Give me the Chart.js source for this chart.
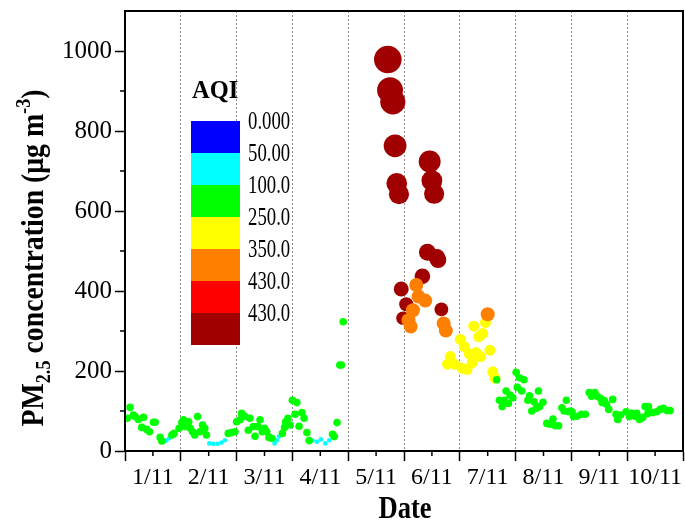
<!DOCTYPE html>
<html>
<head>
<meta charset="utf-8">
<script src="https://cdn.jsdelivr.net/npm/chart.js@4.4.1/dist/chart.umd.min.js"></script>
<style>
  html, body { margin: 0; padding: 0; background: #fff; }
  canvas { display: block; }
</style>
</head>
<body>
<canvas id="pmChart" width="685" height="522"></canvas>
<script>
// x = days since 1/11 00:00, y = PM2.5 (ug m-3); one array per AQI class
var dayLabels = ['1/11', '2/11', '3/11', '4/11', '5/11', '6/11', '7/11', '8/11', '9/11', '10/11'];
var aqiLevels = ['0.000', '50.00', '100.0', '250.0', '350.0', '430.0', '430.0'];
var aqiColors = ['#0000ff', '#00ffff', '#00ff00', '#ffff00', '#ff8000', '#ff0000', '#a00000'];

var cyanPoints = [
  [0.69, 26], [0.74, 26], [0.79, 32],
  [1.51, 19], [1.58, 18], [1.66, 18], [1.73, 21], [1.79, 27],
  [2.68, 19], [2.72, 27], [2.76, 36],
  [3.36, 26], [3.44, 23], [3.51, 29], [3.59, 19], [3.66, 27]
];

var greenPoints = [
  [0.04, 82], [0.09, 109], [0.15, 90], [0.18, 86], [0.24, 79], [0.30, 59], [0.33, 84], [0.39, 54],
  [0.44, 48], [0.51, 72], [0.54, 72], [0.63, 34], [0.66, 25], [0.84, 40], [0.88, 44], [0.97, 57],
  [1.02, 72], [1.05, 78], [1.08, 61], [1.14, 73], [1.17, 57], [1.21, 48], [1.25, 40], [1.30, 86],
  [1.34, 48], [1.39, 65], [1.43, 57], [1.46, 40], [1.85, 44], [1.91, 46], [1.97, 48],
  [2.00, 73], [2.06, 78], [2.09, 94], [2.15, 86], [2.21, 52], [2.24, 82], [2.30, 61], [2.33, 37],
  [2.38, 61], [2.42, 78], [2.46, 48], [2.50, 57], [2.54, 48], [2.58, 34], [2.63, 32], [2.82, 44],
  [2.86, 59], [2.88, 73], [2.92, 82], [2.96, 65],
  [3.00, 127], [3.05, 92], [3.08, 121], [3.12, 62], [3.17, 96], [3.21, 82], [3.26, 46], [3.30, 26],
  [3.72, 42], [3.75, 36], [3.80, 71], [3.85, 215], [3.88, 215], [3.91, 323],
  [6.66, 178], [6.71, 127], [6.76, 111], [6.80, 127], [6.83, 150], [6.87, 119], [6.90, 140], [6.95, 133],
  [7.01, 197], [7.03, 159], [7.07, 183], [7.11, 150], [7.15, 178], [7.22, 127], [7.25, 138], [7.29, 100],
  [7.33, 123], [7.37, 107], [7.41, 150], [7.43, 111], [7.49, 122], [7.56, 69], [7.61, 67], [7.67, 80],
  [7.71, 63], [7.77, 63], [7.83, 108], [7.87, 100], [7.91, 127], [7.95, 98], [7.98, 100],
  [8.01, 98], [8.04, 86], [8.10, 87], [8.18, 92], [8.25, 92], [8.32, 146], [8.36, 137], [8.42, 146],
  [8.46, 137], [8.52, 132], [8.55, 121], [8.59, 126], [8.63, 117], [8.67, 104], [8.74, 129], [8.80, 92],
  [8.83, 79], [8.88, 90], [8.98, 98],
  [9.04, 86], [9.08, 94], [9.14, 87], [9.17, 94], [9.22, 79], [9.28, 84], [9.32, 111], [9.37, 94],
  [9.38, 111], [9.46, 96], [9.53, 98], [9.59, 104], [9.65, 107], [9.71, 101], [9.77, 101]
];

var yellowPoints = [
  [5.78, 217], [5.83, 236], [5.90, 217], [6.01, 279], [6.04, 207], [6.08, 261], [6.13, 204], [6.17, 243],
  [6.22, 221], [6.25, 312], [6.29, 246], [6.34, 286], [6.37, 236], [6.41, 294], [6.46, 321], [6.54, 252],
  [6.59, 198], [6.63, 182]
];

var orangePoints = [
  [5.08, 327], [5.12, 311], [5.16, 352], [5.22, 415], [5.26, 386], [5.38, 376], [5.71, 319], [5.75, 301],
  [6.50, 342]
];

var darkRedPoints = [
  [4.71, 979], [4.75, 902], [4.80, 873], [4.84, 763], [4.87, 669], [4.91, 642], [4.95, 405], [4.98, 332],
  [5.04, 367], [5.33, 437], [5.42, 497], [5.46, 724], [5.50, 676], [5.54, 643], [5.59, 484], [5.61, 478],
  [5.67, 354]
];

var serif = '"Liberation Serif", "Times New Roman", serif';
Chart.defaults.font.family = serif;
Chart.defaults.color = '#000';

function isWhole(c) { return c.tick && c.tick.value % 1 === 0; }

// text squeezed horizontally, like the narrow lettering of the original figure
function squeezed(ctx, text, x, y, sx) {
  ctx.save();
  ctx.translate(x, y);
  ctx.scale(sx, 1);
  ctx.fillText(text, 0, 0);
  ctx.restore();
}

var decor = {
  id: 'decor',
  afterDraw: function (chart) {
    var ctx = chart.ctx, a = chart.chartArea;
    var xs = chart.scales.x, ys = chart.scales.y;
    ctx.save();

    // frame
    ctx.strokeStyle = '#000';
    ctx.lineWidth = 2;
    ctx.strokeRect(a.left, a.top, a.right - a.left, a.bottom - a.top);

    // minor ticks
    ctx.lineWidth = 1.5;
    ctx.beginPath();
    for (var d = 0.5; d < 10; d++) {
      var px = xs.getPixelForValue(d);
      ctx.moveTo(px, a.bottom);
      ctx.lineTo(px, a.bottom + 5);
    }
    for (var v = 100; v < 1100; v += 200) {
      var py = ys.getPixelForValue(v);
      ctx.moveTo(a.left, py);
      ctx.lineTo(a.left - 5, py);
    }
    ctx.stroke();

    // AQI colour key
    ctx.fillStyle = '#000';
    ctx.textBaseline = 'alphabetic';
    ctx.font = 'bold 26px ' + serif;
    squeezed(ctx, 'AQI', 192, 98, 0.94);
    ctx.font = '25px ' + serif;
    ctx.textBaseline = 'middle';
    for (var i = 0; i < aqiColors.length; i++) {
      ctx.fillStyle = aqiColors[i];
      ctx.fillRect(191, 121 + i * 32, 49, 32);
      ctx.fillStyle = '#000';
      squeezed(ctx, aqiLevels[i], 248, 122 + i * 32, 0.75);
    }

    // x title
    ctx.textBaseline = 'alphabetic';
    ctx.textAlign = 'center';
    ctx.font = 'bold 32px ' + serif;
    squeezed(ctx, 'Date', 405, 518, 0.83);

    // y title with sub/superscript
    ctx.textAlign = 'left';
    var big = 'bold 32px ' + serif, small = 'bold 21px ' + serif;
    var parts = [['PM', big, 0], ['2.5', small, 7], [' concentration (\u03bcg m', big, 0], ['-3', small, -13], [')', big, 0]];
    var total = 0;
    parts.forEach(function (p) { ctx.font = p[1]; total += ctx.measureText(p[0]).width; });
    var sx = 337 / total;
    ctx.translate(43, 258);
    ctx.rotate(-Math.PI / 2);
    ctx.scale(sx, 1);
    var u = -total / 2;
    parts.forEach(function (p) {
      ctx.font = p[1];
      ctx.fillText(p[0], u, p[2]);
      u += ctx.measureText(p[0]).width;
    });
    ctx.restore();
  }
};

function darkRedRadius(c) {
  return c.raw ? 3 + c.raw[1] * 0.011 : 8;
}

new Chart(document.getElementById('pmChart'), {
  type: 'scatter',
  data: {
    datasets: [
      { label: 'green', data: greenPoints, pointBackgroundColor: aqiColors[2], pointRadius: 3.8 },
      { label: 'cyan', data: cyanPoints, pointBackgroundColor: aqiColors[1], pointRadius: 2.3 },
      { label: 'orange', data: orangePoints, pointBackgroundColor: aqiColors[4], pointRadius: 7 },
      { label: 'yellow', data: yellowPoints, pointBackgroundColor: aqiColors[3], pointRadius: 5.5 },
      { label: 'darkred', data: darkRedPoints, pointBackgroundColor: aqiColors[6], pointRadius: darkRedRadius }
    ]
  },
  options: {
    responsive: false,
    devicePixelRatio: 1,
    animation: false,
    layout: { autoPadding: false, padding: { top: 11, right: 2, left: 0, bottom: 0 } },
    elements: { point: { borderWidth: 0, hoverRadius: 0 } },
    plugins: { legend: { display: false }, tooltip: { enabled: false } },
    scales: {
      x: {
        type: 'linear',
        min: 0,
        max: 10,
        afterBuildTicks: function (s) {
          var t = [];
          for (var i = 0; i <= 20; i++) t.push({ value: i / 2 });
          s.ticks = t;
        },
        afterFit: function (s) {
          s.height = 71;
          s.paddingLeft = 0;
          s.paddingRight = 0;
        },
        ticks: {
          autoSkip: false,
          maxRotation: 0,
          padding: 2,
          font: { size: 24 },
          callback: function (v) { return v % 1 === 0.5 ? dayLabels[Math.floor(v)] : ''; }
        },
        grid: {
          color: function (c) { return isWhole(c) ? '#8c8c8c' : 'rgba(0,0,0,0)'; },
          tickColor: function (c) { return isWhole(c) ? '#000' : 'rgba(0,0,0,0)'; },
          lineWidth: 1,
          tickLength: 10,
          tickWidth: 1.5
        },
        border: { display: true, color: '#000', width: 2, dash: [2, 2] }
      },
      y: {
        min: 0,
        max: 1100,
        afterFit: function (s) {
          s.width = 125;
          s.paddingTop = 0;
          s.paddingBottom = 0;
        },
        ticks: {
          stepSize: 100,
          autoSkip: false,
          padding: 3,
          font: { size: 25 },
          callback: function (v) { return v % 200 === 0 ? String(v) : ''; }
        },
        grid: {
          drawOnChartArea: false,
          tickLength: 10,
          tickWidth: 1.5,
          tickColor: function (c) { return c.tick && c.tick.value % 200 === 0 ? '#000' : 'rgba(0,0,0,0)'; }
        },
        border: { display: true, color: '#000', width: 2 }
      }
    }
  },
  plugins: [decor]
});
</script>
</body>
</html>
